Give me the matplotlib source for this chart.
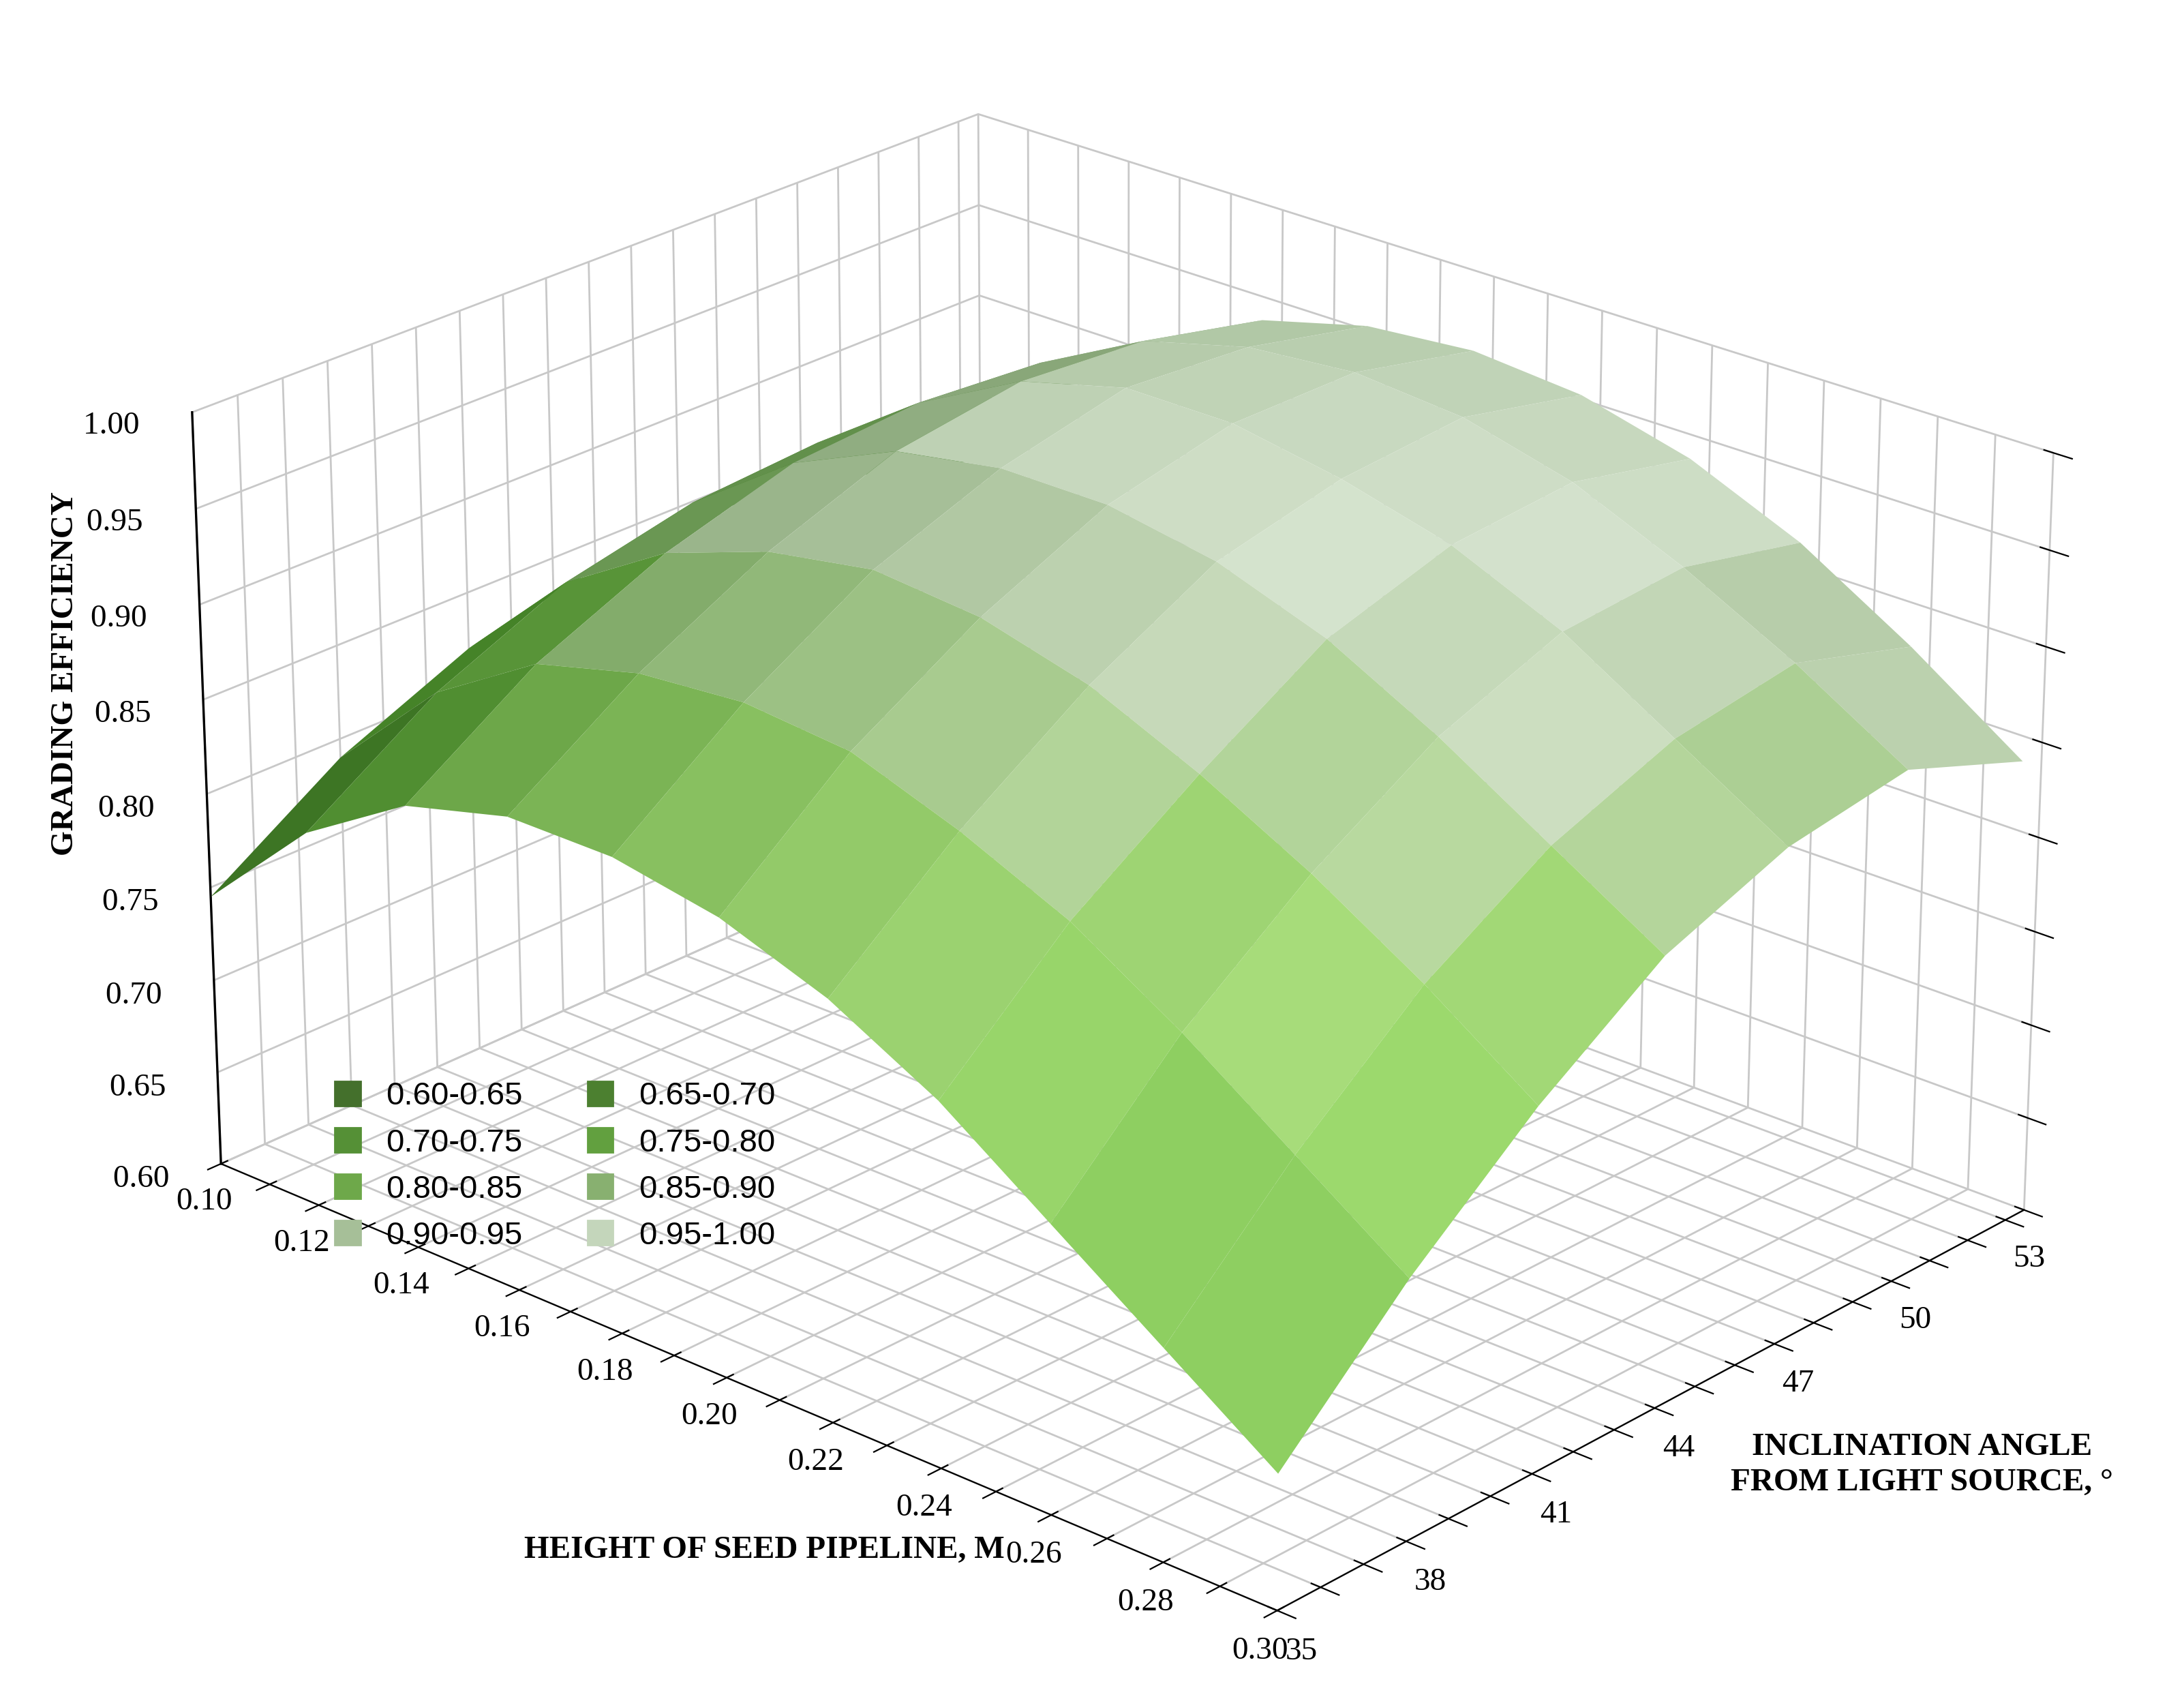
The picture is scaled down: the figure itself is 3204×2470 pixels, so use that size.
import numpy as np
import matplotlib
matplotlib.use("Agg")
import matplotlib.pyplot as plt
from matplotlib.colors import ListedColormap, BoundaryNorm, LightSource
from matplotlib.patches import Patch

heights = [0.10,0.12,0.14,0.16,0.18,0.20,0.22,0.24,0.26,0.28,0.30]
angles = [35,38,41,44,47,50,53]
efficiency = [
 [0.745,0.80,0.835,0.85,0.85,0.84,0.82,0.79,0.75,0.71,0.67],
 [0.79,0.845,0.88,0.895,0.90,0.895,0.875,0.85,0.815,0.775,0.735],
 [0.82,0.875,0.91,0.93,0.94,0.935,0.92,0.895,0.865,0.83,0.79],
 [0.835,0.89,0.93,0.955,0.965,0.965,0.955,0.935,0.905,0.87,0.835],
 [0.84,0.895,0.935,0.965,0.98,0.98,0.97,0.955,0.93,0.895,0.86],
 [0.83,0.89,0.93,0.96,0.975,0.98,0.975,0.96,0.935,0.905,0.87],
 [0.81,0.87,0.915,0.945,0.96,0.965,0.96,0.945,0.92,0.885,0.845],
]
band_labels = ["0.60-0.65","0.65-0.70","0.70-0.75","0.75-0.80",
               "0.80-0.85","0.85-0.90","0.90-0.95","0.95-1.00"]
band_colors = ["#44702c","#4c8030","#559036","#62a03f","#6ea84a","#88b070","#a6bf98","#c4d6bb"]

X, Y = np.meshgrid(heights, angles)
Z = np.array(efficiency)

plt.rcParams['font.family'] = ['Liberation Serif', 'DejaVu Serif']
fig = plt.figure(figsize=(16.02, 12.35), dpi=200)
ax = fig.add_axes([-0.06, -0.08, 1.12, 1.16], projection='3d')

cmap = ListedColormap(band_colors)
norm = BoundaryNorm(np.arange(0.60, 1.0001, 0.05), 8)
ls = LightSource(azdeg=60, altdeg=45)
fc = ls.shade(Z, cmap=cmap, norm=norm, blend_mode='soft', vert_exag=0.25)
ax.plot_surface(X, Y, Z, facecolors=fc, rstride=1, cstride=1, linewidth=0, antialiased=True, shade=False)

ax.set_xlim(0.10, 0.30); ax.set_ylim(35, 53.5); ax.set_zlim(0.60, 1.00)
xt = np.round(np.arange(0.10, 0.3001, 0.01), 2)
ax.set_xticks(xt)
ax.set_xticklabels([f"{h:.2f}" if round(h*100) % 2 == 0 else "" for h in xt], fontsize=17)
yt = np.arange(35, 54)
ax.set_yticks(yt)
ax.set_yticklabels([str(a) if a in angles else "" for a in yt], fontsize=17)
zt = np.round(np.arange(0.60, 1.001, 0.05), 2)
ax.set_zticks(zt); ax.set_zticklabels([""] * len(zt))
ax.zaxis.line.set_visible(False)
ax.zaxis.set_tick_params(length=0)
for a in (ax.xaxis, ax.yaxis, ax.zaxis):
    a.set_pane_color((1, 1, 1, 0))
    a._axinfo['grid']['color'] = '#c8c8c8'
    a._axinfo['grid']['linewidth'] = 1.0
# z axis on left corner
ax.plot([0.10, 0.10], [35, 35], [0.60, 1.00], color='black', lw=1.2)
for v in zt:
    ax.text(0.10, 34.2, v, f"{v:.2f}  ", fontsize=17, ha='right', va='center')
fig.text(0.03, 0.60, "GRADING EFFICIENCY", rotation=90, fontsize=17, fontweight='bold', ha='center', va='center')
fig.text(0.35, 0.075, "HEIGHT OF SEED PIPELINE, M", fontsize=17, fontweight='bold', ha='center')
fig.text(0.88, 0.115, "INCLINATION ANGLE\nFROM LIGHT SOURCE, °", fontsize=17, fontweight='bold', ha='center', linespacing=1.3)
ax.view_init(elev=24, azim=-48)
ax.set_box_aspect((1.25, 1.0, 0.72))

handles = [Patch(color=c, label=l) for c, l in zip(band_colors, band_labels)]
order = [0,2,4,6,1,3,5,7]
fig.legend([handles[i] for i in order], [band_labels[i] for i in order], ncol=2,
           loc='lower left', bbox_to_anchor=(0.14, 0.24), frameon=False,
           handlelength=0.8, handleheight=0.8, columnspacing=2.0, prop={'family':'Liberation Sans','size':17})
fig.savefig("out.png", dpi=200)
